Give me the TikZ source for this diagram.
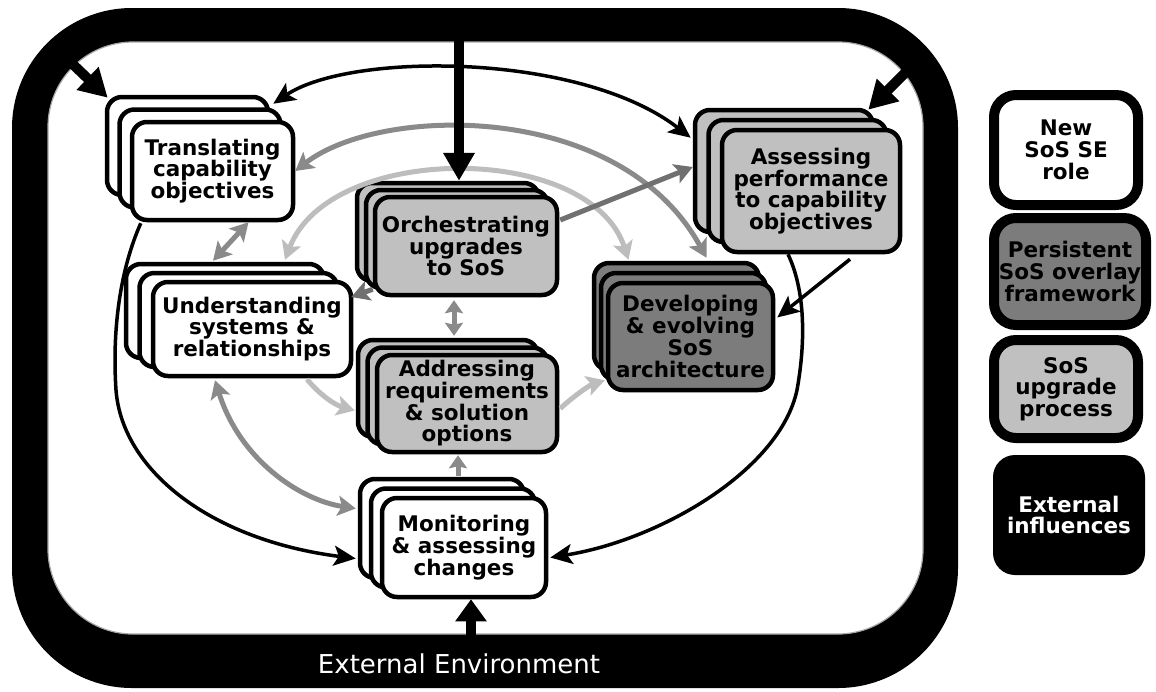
\documentclass[tikz,border=0pt]{standalone}
\usepackage{fontspec}
\setmainfont{DejaVu Sans}
\usetikzlibrary{arrows.meta,calc}
\definecolor{fillL}{HTML}{C0C0C0}
\definecolor{fillD}{HTML}{7C7C7C}
\definecolor{arrM}{HTML}{8A8A8A}
\definecolor{arrL}{HTML}{BDBDBD}
\definecolor{arrD}{HTML}{707070}
\newcommand\bxf{\fontsize{21.5}{21.7}\selectfont\bfseries}
\newcommand\stk[9]{%
  \node[sbox, fill=#8, minimum width=#4pt, minimum height=#5pt] (#1-b) at ({#2-2*#6},{#3-2*#7}) {};
  \node[sbox, fill=#8, minimum width=#4pt, minimum height=#5pt] (#1-m) at ({#2-#6},{#3-#7}) {};
  \node[sbox, fill=#8, minimum width=#4pt, minimum height=#5pt] (#1) at (#2,#3) {#9};
}
\tikzset{
  sbox/.style={draw=black, line width=4.5pt, rounded corners=15pt, inner sep=0pt, align=center, font=\bxf},
  btip/.tip={Stealth[length=22pt,width=20pt,inset=5pt]},
  gtip/.tip={Stealth[length=18pt,width=20pt,inset=4pt]},
  stip/.tip={Stealth[length=13pt,width=18pt,inset=2pt]},
  ext/.style={line width=10pt, draw=black, -{Triangle[length=28pt,width=30pt]}},
  blk/.style={line width=3.5pt, draw=black},
  grm/.style={line width=5pt, draw=arrM},
  grl/.style={line width=5pt, draw=arrL},
  grd/.style={line width=5pt, draw=arrD},
  leg/.style={line width=10pt, draw=black, rounded corners=22pt, inner sep=0pt, align=center, font=\bxf},
}
\begin{document}
\begin{tikzpicture}[x=1pt,y=-1pt]
\useasboundingbox (0,0) rectangle (1156,691);
% frame
\fill[black, rounded corners=120pt] (12,8) rectangle (958,688);
\filldraw[fill=white, draw=gray!70, line width=1.2pt, rounded corners=85pt] (48,42) rectangle (923,634);
\node[anchor=base, text=white, font=\fontsize{26}{28}\selectfont] (env) at (459,673) {External Environment};

% stacked boxes
\stk{tr}{212.5}{171}{161}{98}{12.5}{12.5}{white}{Translating\\capability\\objectives}
\stk{or}{466}{246}{182}{98}{9}{7}{fillL}{Orchestrating\\upgrades\\to SoS}
\stk{ad}{467}{403.5}{180}{97}{9.5}{7.5}{fillL}{Addressing\\requirements\\\& solution\\options}
\stk{de}{690.5}{336.5}{165}{107}{7}{10}{fillD}{Developing\\\& evolving\\SoS\\architecture}
\stk{as}{811}{191}{178}{122}{13.5}{10}{fillL}{Assessing\\performance\\to capability\\objectives}
\stk{un}{252}{329}{198}{94}{13.5}{9}{white}{Understanding\\systems \&\\relationships}
\stk{mo}{464}{547.5}{164}{99}{11}{9.5}{white}{Monitoring\\\& assessing\\changes}

% legend
\node[leg, fill=white, minimum width=144pt, minimum height=110pt] (l1) at (1066,150) {New\\SoS SE\\role};
\node[leg, fill=fillD, minimum width=152pt, minimum height=107pt] (l2) at (1070,271.5) {Persistent\\SoS overlay\\framework};
\node[leg, fill=fillL, minimum width=144pt, minimum height=98pt] (l3) at (1066,389) {SoS\\upgrade\\process};
\node[leg, draw=none, fill=black, text=white, minimum width=152pt, minimum height=120pt] (l4) at (1069,515) {External\\influences};

% light gray connectors
\draw[grl, gtip-gtip] ($(un-b.north)+(60,-2)$) .. controls (330,142) and (590,142) .. ($(de-b.north)+(-48,-1)$);
\draw[grl, -gtip] ($(un.south)+(55,1)$) .. controls (320,395) and (335,405) .. ($(ad-b.west)+(-1,22)$);
\draw[grl, -gtip] ($(ad.east)+(1,5)$) .. controls (575,395) and (590,385) .. ($(de.south west)+(-1,-12)$);
% medium gray connectors
\draw[grm, gtip-gtip] (tr.east) .. controls (380,105) and (620,100) .. ($(de-b.north)+(30,-3)$);
\draw[grm, gtip-gtip] ($(tr.south)+(36,0)$) -- ($(un-b.north)+(-12,-1)$);
\draw[grm, gtip-gtip] ($(un.south)+(-37,2)$) .. controls (240,460) and (300,500) .. ($(mo-b.west)+(-2,-20)$);
\draw[grm, stip-stip] ($(or.south)+(-12,3)$) -- ($(ad-b.north)+(6,-2)$);
\draw[grm, -stip] ($(mo-b.north)+(16,-1)$) -- ($(ad.south)+(-9,1)$);
% dark gray connectors
\draw[grd, -gtip] ($(or.east)+(1,-26)$) -- ($(as-b.west)+(0,-4)$);
\draw[grd, -gtip] ($(or.south west)+(0,-8)$) -- ($(un.east)+(-2,-32)$);
% black loop
\draw[blk, btip-btip] ($(tr-b.north east)+(3,9)$) .. controls (350,52) and (580,52) .. ($(as-b.north west)+(-2,30)$);
\draw[blk, -btip] ($(tr.south west)+(11,1)$) .. controls (120,270) and (112,330) .. (116,390) .. controls (122,470) and (210,540) .. ($(mo-b.west)+(-2,30)$);
\draw[blk, -btip] ($(as.south)+(-23,0)$) .. controls (805,290) and (806,340) .. (797,390) .. controls (780,470) and (660,540) .. ($(mo.east)+(2,10)$);
\draw[blk, -btip] ($(as.south)+(39,5)$) -- ($(de.east)+(2,-19)$);
% external influences
\coordinate (e1) at (60,52);
\coordinate (e2) at (459,20);
\coordinate (e3) at (918,60);
\coordinate (e4) at (471,650);
\draw[ext] (e1) -- ($(tr-b.north west)+(3,3)$);
\draw[ext] (e2) -- (e2 |- or-b.north);
\draw[ext] (e3) -- ($(as-b.north east)+(-7,2)$);
\draw[ext, -{Triangle[length=22pt,width=30pt]}] (e4) -- (e4 |- mo.south);
\end{tikzpicture}
\end{document}
